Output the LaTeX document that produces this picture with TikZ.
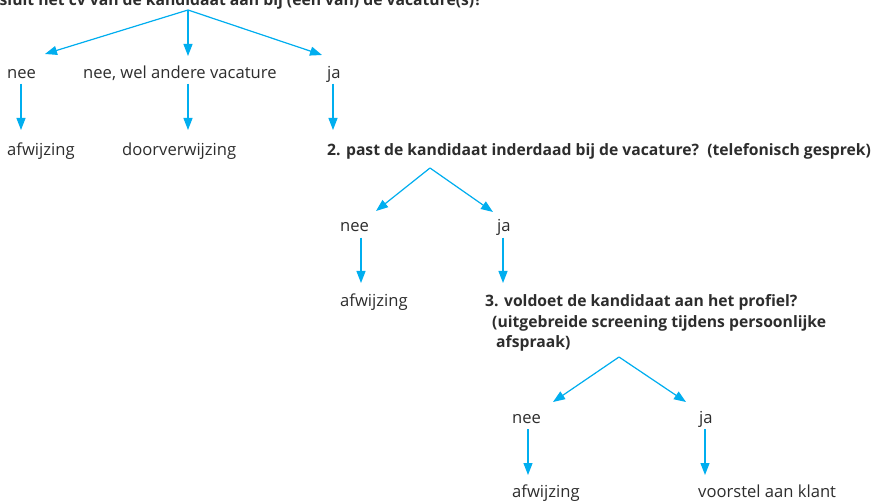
\documentclass[tikz,border=0pt]{standalone}
\usepackage{fontspec}
\setmainfont{Open Sans}
\usetikzlibrary{arrows.meta}
\definecolor{arrowcyan}{RGB}{0,174,239}
\definecolor{txtgray}{RGB}{45,45,45}
\begin{document}
\begin{tikzpicture}[x=1pt,y=-1pt,
  lbl/.style={anchor=base west, inner sep=0pt, text=txtgray, font=\fontsize{16.6}{19}\selectfont},
  qst/.style={lbl, font=\fontsize{15.7}{19}\selectfont\bfseries},
  arr/.style={draw=arrowcyan, line width=1.2pt, -{Triangle[length=12pt,width=9pt]}, fill=arrowcyan}]
\useasboundingbox (0,0) rectangle (877,502);
\clip (0,0) rectangle (877,502);
\fill[white] (0,0) rectangle (877,502);

% question 1 (cut off at the top, as in the reference)
\node[qst, anchor=base east] (q1) at (482,5.5) {1. sluit het cv van de kandidaat aan bij (een van) de vacature(s)?};

% level 1
\node[lbl] (nee1) at (7,79) {nee};
\node[lbl] (neewel) at (83,79) {nee, wel andere vacature};
\node[lbl] (ja1) at (327,79) {ja};
\node[lbl] (afw1) at (7,156) {afwijzing};
\node[lbl] (door) at (122,156) {doorverwijzing};
\node[qst] (q2) at (327,156) {2. past de kandidaat inderdaad bij de vacature?\ \ (telefonisch gesprek)};

\coordinate (ap1) at (188,10);
\coordinate (t1a) at (45,54);
\coordinate (t1b) at (188,56);
\coordinate (t1c) at (322,55);
\draw[arr] (ap1) -- (t1a);
\draw[arr] (ap1) -- (t1b);
\draw[arr] (ap1) -- (t1c);

\coordinate (v1as) at (21,84);  \coordinate (v1ae) at (21,130);
\coordinate (v1bs) at (188,84); \coordinate (v1be) at (188,130);
\coordinate (v1cs) at (333,84); \coordinate (v1ce) at (333,130);
\draw[arr] (v1as) -- (v1ae);
\draw[arr] (v1bs) -- (v1be);
\draw[arr] (v1cs) -- (v1ce);

% level 2
\node[lbl] (nee2) at (340,232) {nee};
\node[lbl] (ja2) at (497,232) {ja};
\node[lbl] (afw2) at (340,306) {afwijzing};
\node[qst] (q3a) at (485,306) {3. voldoet de kandidaat aan het profiel?};
\node[qst] (q3b) at (492,327) {(uitgebreide screening tijdens persoonlijke};
\node[qst] (q3c) at (496,347) {afspraak)};

\coordinate (ap2) at (430,168);
\coordinate (t2a) at (376,211);
\coordinate (t2b) at (493,212);
\draw[arr] (ap2) -- (t2a);
\draw[arr] (ap2) -- (t2b);
\coordinate (v2as) at (361,238); \coordinate (v2ae) at (361,283);
\coordinate (v2bs) at (503,238); \coordinate (v2be) at (503,283);
\draw[arr] (v2as) -- (v2ae);
\draw[arr] (v2bs) -- (v2be);

% level 3
\node[lbl] (nee3) at (512,423) {nee};
\node[lbl] (ja3) at (699,423) {ja};
\node[lbl] (afw3) at (512,497) {afwijzing};
\node[lbl] (voor) at (698,497) {voorstel aan klant};

\coordinate (ap3) at (619,357);
\coordinate (t3a) at (553,402);
\coordinate (t3b) at (686,402);
\draw[arr] (ap3) -- (t3a);
\draw[arr] (ap3) -- (t3b);
\coordinate (v3as) at (528,429); \coordinate (v3ae) at (528,475);
\coordinate (v3bs) at (705,429); \coordinate (v3be) at (705,475);
\draw[arr] (v3as) -- (v3ae);
\draw[arr] (v3bs) -- (v3be);
\end{tikzpicture}
\end{document}
